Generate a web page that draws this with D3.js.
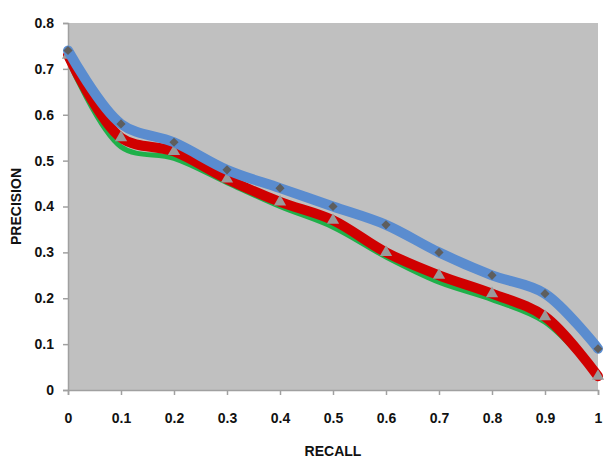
<!DOCTYPE html>
<html>
<head>
<meta charset="utf-8">
<script src="https://cdn.jsdelivr.net/npm/d3@7"></script>
<style>
  body { margin: 0; background: #fff; }
  svg text { font-family: "Liberation Sans", Arial, sans-serif; font-weight: bold; fill: #111; }
</style>
</head>
<body>
<svg id="chart" width="607" height="458"></svg>
<script>
const recall = [0, 0.1, 0.2, 0.3, 0.4, 0.5, 0.6, 0.7, 0.8, 0.9, 1];
const blueValues = [0.74, 0.58, 0.54, 0.48, 0.44, 0.40, 0.36, 0.30, 0.25, 0.21, 0.09];
const redValues = [0.73, 0.55, 0.52, 0.46, 0.41, 0.37, 0.30, 0.25, 0.21, 0.16, 0.03];
const greenValues = [0.72, 0.53, 0.505, 0.452, 0.40, 0.355, 0.29, 0.235, 0.197, 0.148, 0.03];
const xTicks = [0, 0.1, 0.2, 0.3, 0.4, 0.5, 0.6, 0.7, 0.8, 0.9, 1];
const yTicks = [0, 0.1, 0.2, 0.3, 0.4, 0.5, 0.6, 0.7, 0.8];

const svg = d3.select("#chart");
const margin = { top: 23, right: 9, bottom: 68, left: 68 };
const W = 607, H = 458;
const x = d3.scaleLinear().domain([0, 1]).range([margin.left, W - margin.right]);
const y = d3.scaleLinear().domain([0, 0.8]).range([H - margin.bottom, margin.top]);

// plot area
svg.append("rect")
  .attr("x", x(0)).attr("y", y(0.8))
  .attr("width", x(1) - x(0)).attr("height", y(0) - y(0.8))
  .attr("fill", "#c0c0c0");

const xAxis = svg.append("g")
  .attr("transform", `translate(0,${y(0)})`)
  .call(d3.axisBottom(x).tickValues(xTicks).tickSize(5).tickPadding(18).tickFormat(d3.format("~g")));
const yAxis = svg.append("g")
  .attr("transform", `translate(${x(0)},0)`)
  .call(d3.axisLeft(y).tickValues(yTicks).tickSize(5).tickPadding(9).tickFormat(d3.format("~g")));
[xAxis, yAxis].forEach(g => {
  g.selectAll("path, line").attr("stroke", "#a0a0a0").attr("stroke-width", 1.5);
  g.selectAll("text").style("font-size", "14px").style("font-family", "Liberation Sans, Arial, sans-serif").style("font-weight", "bold").attr("fill", "#111");
});

const line = d3.line()
  .x((d, i) => x(recall[i]))
  .y(d => y(d))
  .curve(d3.curveCatmullRom.alpha(0.5));

svg.append("path").datum(greenValues)
  .attr("d", line).attr("fill", "none")
  .attr("stroke", "#1fb04a").attr("stroke-width", 5).attr("stroke-linecap", "round");
svg.append("path").datum(redValues)
  .attr("d", line).attr("fill", "none")
  .attr("stroke", "#d00000").attr("stroke-width", 10).attr("stroke-linecap", "round");
svg.append("g").selectAll("path")
  .data(redValues)
  .join("path")
  .attr("transform", (d, i) => `translate(${x(recall[i])},${y(d)})`)
  .attr("d", d3.symbol(d3.symbolTriangle, 65))
  .attr("fill", "#9a9a9a");

svg.append("path").datum(blueValues)
  .attr("d", line).attr("fill", "none")
  .attr("stroke", "#5a8ccf").attr("stroke-width", 10).attr("stroke-linecap", "round");
svg.append("g").selectAll("path")
  .data(blueValues)
  .join("path")
  .attr("transform", (d, i) => `translate(${x(recall[i])},${y(d)}) rotate(45)`)
  .attr("d", d3.symbol(d3.symbolSquare, 42))
  .attr("fill", "#5e5e5e");

svg.append("text")
  .attr("x", (x(0) + x(1)) / 2).attr("y", 456)
  .attr("text-anchor", "middle")
  .style("font-size", "14px")
  .text("RECALL");
svg.append("text")
  .attr("transform", `translate(21,${(y(0) + y(0.8)) / 2}) rotate(-90)`)
  .attr("text-anchor", "middle")
  .style("font-size", "14px")
  .text("PRECISION");
</script>
</body>
</html>
